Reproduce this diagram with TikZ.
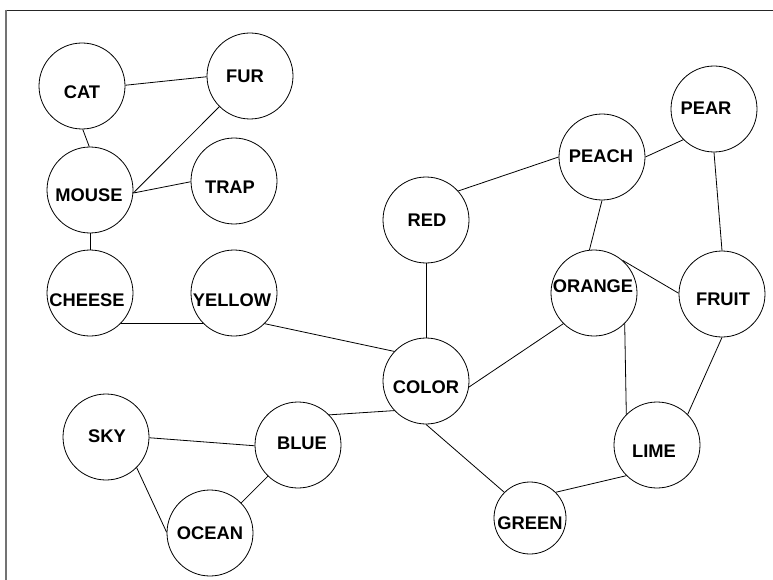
\documentclass[tikz,border=0pt]{standalone}
\usepackage{fontspec}
\setmainfont{Liberation Sans}[BoldFont={Liberation Sans Bold}]
\begin{document}
\begin{tikzpicture}[x=1pt,y=-1pt,
  blob/.style={draw=black, line width=0.8pt, circle, minimum size=86pt, inner sep=0pt, fill=white},
  smallblob/.style={blob, minimum size=72pt},
  word/.style={font=\fontsize{18.3}{18}\selectfont\bfseries, text height=13pt, text depth=0pt, inner sep=0pt},
  link/.style={draw=black, line width=0.8pt}]
\useasboundingbox (0,0) rectangle (773,580);
\fill[white] (0,0) rectangle (773,580);
% frame
\draw[black!85, line width=0.8pt] (773,10) -- (6,10);
\draw[black!55, line width=1.4pt] (6,10) -- (6,580);

% circles
\node[blob] (cat) at (82,86) {};
\node[blob] (fur) at (250,76) {};
\node[blob] (mouse) at (90,190) {};
\node[blob] (trap) at (234,181) {};
\node[blob] (cheese) at (90,293) {};
\node[blob] (yellow) at (234,293) {};
\node[blob] (red) at (426,220) {};
\node[blob] (peach) at (602,157) {};
\node[blob] (pear) at (714,109) {};
\node[blob] (orange) at (594,293) {};
\node[blob] (fruit) at (722,294) {};
\node[blob] (color) at (426,381) {};
\node[blob] (sky) at (106,437) {};
\node[blob] (blue) at (298,445) {};
\node[blob] (ocean) at (210,533) {};
\node[blob] (lime) at (657,445) {};
\node[smallblob] (green) at (530,518) {};

% labels
\node[word] (tcat) at (82,92) {CAT};
\node[word] (tfur) at (245,76) {FUR};
\node[word] (tmouse) at (89,195) {MOUSE};
\node[word] (ttrap) at (230,187) {TRAP};
\node[word] (tcheese) at (87,300) {CHEESE};
\node[word] (tyellow) at (232,300) {YELLOW};
\node[word] (tred) at (427,220) {RED};
\node[word] (tpeach) at (601,156) {PEACH};
\node[word] (tpear) at (706,108) {PEAR};
\node[word] (torange) at (593,286) {ORANGE};
\node[word] (tfruit) at (723,299) {FRUIT};
\node[word] (tcolor) at (426,387) {COLOR};
\node[word] (tsky) at (107,436) {SKY};
\node[word] (tblue) at (302,443) {BLUE};
\node[word] (tocean) at (210,533) {OCEAN};
\node[word] (tlime) at (654,451) {LIME};
\node[word] (tgreen) at (530,523) {GREEN};

% connectors
\draw[link] (cat.1) -- (fur.181);
\draw[link] (cat.-89) -- (mouse.91);
\draw[link] (mouse.-4) -- (fur.225);
\draw[link] (mouse.-4) -- (trap.181);
\draw[link] (mouse.-90) -- (cheese.90);
\draw[link] (cheese.-44) -- (yellow.224);
\draw[link] (yellow.-45) -- (color.137);
\draw[link] (sky.-1) -- (blue.181);
\draw[link] (sky.-45) -- (ocean.179);
\draw[link] (blue.226) -- (ocean.44);
\draw[link] (blue.44) -- (color.223);
\draw[link] (red.-90) -- (color.90);
\draw[link] (red.42) -- (peach.180);
\draw[link] (peach.0) -- (pear.225);
\draw[link] (peach.-90) -- (orange.96);
\draw[link] (pear.-90) -- (fruit.90);
\draw[link] (orange.49) -- (fruit.179);
\draw[link] (orange.225) -- (color.-8);
\draw[link] (orange.-45) -- (lime.135);
\draw[link] (fruit.-90) -- (lime.45);
\draw[link] (color.-90) -- (green.135);
\draw[link] (green.45) -- (lime.225);
\end{tikzpicture}
\end{document}
